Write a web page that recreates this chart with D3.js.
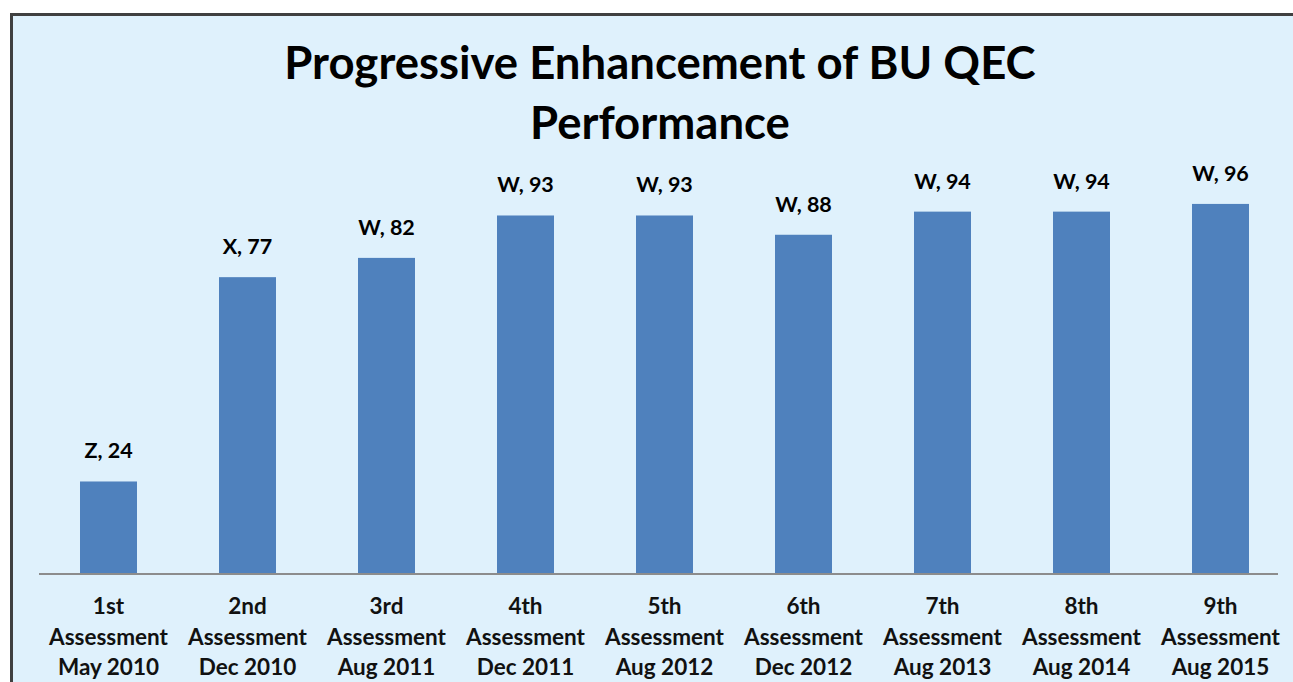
<!DOCTYPE html>
<html>
<head>
<meta charset="utf-8">
<script src="https://cdn.jsdelivr.net/npm/d3@7"></script>
<style>
  body { margin: 0; background: #fff; }
  svg { display: block; }
</style>
</head>
<body>
<svg id="canvas" width="1293" height="682"></svg>
<script>
// chart data
let ordinals = ['1st', '2nd', '3rd', '4th', '5th', '6th', '7th', '8th', '9th']
let sessions = ['May 2010', 'Dec 2010', 'Aug 2011', 'Dec 2011', 'Aug 2012', 'Dec 2012', 'Aug 2013', 'Aug 2014', 'Aug 2015']
let grades = ['Z', 'X', 'W', 'W', 'W', 'W', 'W', 'W', 'W']
let scores = [24, 77, 82, 93, 93, 88, 94, 94, 96]

let fontFamily = 'Lato, "Open Sans", sans-serif'

let canvas = d3.select('#canvas')

// light blue chart area with dark frame (runs off right / bottom edge)
canvas.append('rect')
    .attr('x', 11.5)
    .attr('y', 14.5)
    .attr('width', 1400)
    .attr('height', 800)
    .attr('fill', '#dff1fc')
    .attr('stroke', '#404040')
    .attr('stroke-width', 3)

// title
let title = canvas.append('text')
    .attr('x', 660)
    .attr('text-anchor', 'middle')
    .attr('font-family', fontFamily)
    .attr('font-weight', 'bold')
    .attr('font-size', 45.5)
    .attr('fill', '#000')
title.append('tspan').attr('x', 660).attr('y', 79).text('Progressive Enhancement of BU QEC')
title.append('tspan').attr('x', 660).attr('y', 139).text('Performance')

let xScale = d3.scaleBand()
    .domain(ordinals)
    .range([39, 1290])
    .paddingInner(0.59)
    .paddingOuter(0.295)

let yScale = d3.scaleLinear()
    .domain([0, 100])
    .range([574, 188.5])

// bars
canvas.selectAll('rect.bar')
    .data(scores)
    .enter()
    .append('rect')
    .attr('class', 'bar')
    .attr('x', (d, i) => xScale(ordinals[i]))
    .attr('y', (d) => yScale(d))
    .attr('width', xScale.bandwidth())
    .attr('height', (d) => yScale(0) - yScale(d))
    .attr('fill', '#4f81bd')

// data labels
canvas.selectAll('text.value')
    .data(scores)
    .enter()
    .append('text')
    .attr('class', 'value')
    .attr('x', (d, i) => xScale(ordinals[i]) + xScale.bandwidth() / 2)
    .attr('y', (d) => yScale(d) - 23)
    .attr('text-anchor', 'middle')
    .attr('font-family', fontFamily)
    .attr('font-weight', 'bold')
    .attr('font-size', 21.5)
    .attr('fill', '#000')
    .text((d, i) => grades[i] + ', ' + d)

// x axis
let xAxis = d3.axisBottom(xScale).tickSize(0).tickFormat('')
let axisG = canvas.append('g')
    .attr('transform', 'translate(0, 574)')
    .call(xAxis)
axisG.select('.domain').remove()
axisG.append('line')
    .attr('x1', 39)
    .attr('x2', 1278)
    .attr('stroke', '#8c8c8c')
    .attr('stroke-width', 2)

axisG.selectAll('.tick').each(function (d, i) {
    let t = d3.select(this).append('text')
        .attr('text-anchor', 'middle')
        .attr('font-family', fontFamily)
        .attr('font-weight', 'bold')
        .attr('font-size', 22.5)
        .attr('fill', '#111')
    let lines = [ordinals[i], 'Assessment', sessions[i]]
    lines.forEach((s, k) => {
        t.append('tspan').attr('x', 0).attr('y', 40 + k * 30.5).text(s)
    })
})
</script>
</body>
</html>
